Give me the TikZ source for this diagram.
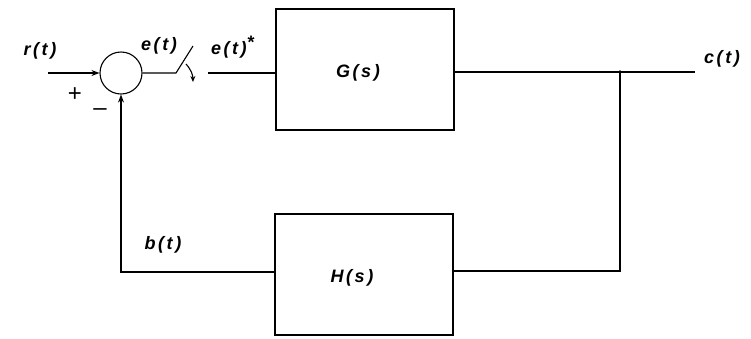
\documentclass[tikz,border=0pt]{standalone}
\usepackage{fontspec}
\setsansfont{Liberation Sans}
\usetikzlibrary{arrows.meta}
\begin{document}
\begin{tikzpicture}[x=1pt,y=-1pt,
  lbl/.style={font=\sffamily\bfseries\itshape\fontsize{18}{18}\selectfont\addfontfeature{LetterSpace=14}, inner sep=0pt},
  blockbox/.style={draw, line width=1.1pt, minimum width=178pt, minimum height=121pt, inner sep=0pt},
  wire/.style={line width=1.1pt},
  arr/.style={wire, -{Stealth[length=8pt,width=6pt]}}]
\useasboundingbox (0,0) rectangle (751,338);
% blocks
\node[blockbox] (G) at (365,69.5) {};
\node[lbl] (Gl) at (358,73) {G(s)};
\node[blockbox] (H) at (364,274.5) {};
\node[lbl] (Hl) at (352,278) {H(s)};
% summing junction
\node[draw, circle, line width=1.1pt, minimum size=42pt, inner sep=0pt] (S) at (121,73) {};
% coordinates
\coordinate (rin) at (48,73);
\coordinate (sw1) at (176,73);
\coordinate (sw2) at (193,46);
\coordinate (ein) at (208,73);
\coordinate (J) at (620,72);
\coordinate (cout) at (695,72);
\coordinate (HJ) at (620,271);
\coordinate (FB) at (121,272);
\coordinate (ar1) at (186,64);
\coordinate (ar2) at (193,82);
% connections
\draw[arr] (rin) -- (S.west);
\draw[wire] (S.east) -- (sw1) -- (sw2);
\draw[wire, -{Stealth[length=6pt,width=5pt]}] (ar1) to[bend left=20] (ar2);
\draw[wire] (ein) -- (ein -| G.west);
\draw[wire] (G.east |- J) -- (cout);
\draw[wire] (J) -- (HJ) -- (HJ -| H.east);
\draw[arr] (H.west |- FB) -- (FB) -- (S.south);
\fill (J) circle (1.8pt);
% labels
\node[lbl] (rl) at (40,51) {r(t)};
\node[lbl] (el) at (159,46) {e(t)};
\node[lbl, anchor=west] (esl) at (211,47) {e(t)\raisebox{6pt}{*}};
\node[lbl] (cl) at (722,59) {c(t)};
\node[lbl] (bl) at (163,245) {b(t)};
\node[font=\sffamily\fontsize{24}{24}\selectfont, inner sep=0pt] (plus) at (75,95) {+};
\node[font=\sffamily\fontsize{24}{24}\selectfont, inner sep=0pt] (minus) at (100,112) {\textendash};
\end{tikzpicture}
\end{document}
